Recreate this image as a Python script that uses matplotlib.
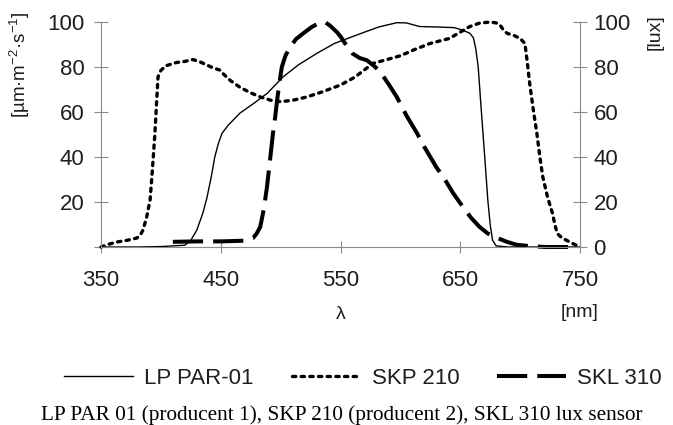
import numpy as np
import matplotlib
matplotlib.use('Agg')
import matplotlib.pyplot as plt

plt.rcParams['font.family'] = ['Liberation Sans', 'DejaVu Sans']
plt.rcParams['mathtext.fontset'] = 'custom'
plt.rcParams['mathtext.rm'] = 'Liberation Sans'

# spectral responses, wavelength [nm] -> relative value
lp_nm = [350, 380, 400, 420, 425, 430, 435, 438.5, 442, 445, 448, 451, 456, 466, 478, 489,
         502, 515, 530, 545, 560, 570, 582, 597, 605, 616, 630, 645, 652, 658, 661, 663,
         665, 667, 669, 671, 673, 675, 677, 680, 690, 750]
lp_val = [0, 0, 0.2, 0.8, 3, 7.5, 15, 22, 31, 40, 46, 50.5, 54, 59.5, 64, 68.4,
          75.6, 81, 86, 90.5, 93.5, 95.5, 97.8, 99.7, 99.6, 98, 97.8, 97.5, 96.4, 95, 93, 88,
          80, 65, 50.5, 36, 21, 10, 3, 0.5, 0, 0]

skp_nm = [350, 355, 363, 372, 380, 383, 385, 388, 391, 393, 395, 396.5, 397.6, 400, 404,
          413, 420, 427, 433, 438, 444, 449, 453, 458, 466, 475, 483, 492, 500, 510, 522,
          535, 550, 562, 577, 590, 600, 612, 625, 641, 650, 658, 666, 675, 680, 683, 686,
          689, 695, 700, 704, 706, 708, 711, 714, 716.5, 719, 723, 727, 729, 731, 735,
          741.6, 746, 750]
skp_val = [0, 1, 2.2, 3, 4, 5.5, 7.5, 13, 21, 35, 50.5, 65, 75.6, 78.5, 80.5,
           82, 82.5, 83.3, 82.2, 81, 79.5, 78.7, 76.5, 74, 71, 68.5, 66.7, 65.2, 64.6, 65.2, 66.7,
           69, 72, 75.5, 81.6, 83.5, 85, 87.8, 90.5, 92.7, 95.5, 98, 99.5, 100, 99.6, 98.8, 96.5,
           95, 94, 92.7, 90.5, 82, 72.6, 61, 50.5, 40, 31, 22, 15, 10, 6, 4,
           2.2, 1, 0]

skl_nm = [410, 430, 450, 470, 477, 480, 483, 486, 488.6, 491, 493.6, 495.5, 497, 499, 501,
          504, 508, 513, 519, 526, 532, 537, 541, 544, 547, 550, 555, 560, 566, 572, 578,
          583, 590, 597, 605, 614, 620, 625, 630, 636, 644, 652, 659, 666, 673, 681, 689,
          697, 710, 722, 745]
skl_val = [2.3, 2.5, 2.5, 2.8, 4, 6, 9, 17, 26.7, 38, 50.5, 58, 65, 73, 80,
           85, 89, 92.5, 95, 97.8, 99.5, 100, 98.5, 97, 95.5, 93.6, 89.5, 86, 84, 83, 80.5,
           78, 72.5, 66.7, 58.5, 50.5, 44.5, 40, 35.5, 31, 24, 18, 13, 9, 6, 4, 2.3,
           1, 0.3, 0, 0]

x_ticks = [350, 450, 550, 650, 750]
y_ticks = [0, 20, 40, 60, 80, 100]

grey = '#8a8a8a'
txt = '#1e1e1e'

fig = plt.figure(figsize=(6.73, 4.25), dpi=100)
ax = fig.add_axes([0.1501, 0.4188, 0.7117, 0.5294])

ax.plot(lp_nm, lp_val, color='black', lw=1.0, label='LP PAR-01', clip_on=False)
ax.plot(skp_nm, skp_val, color='black', lw=2.4, linestyle=(0, (1.0, 1.6)),
        dash_capstyle='round', label='SKP 210', clip_on=False)
ax.plot(skl_nm, skl_val, color='black', lw=2.9, linestyle=(0, (7.5, 2.5)),
        label='SKL 310', clip_on=False)

ax.set_xlim(350, 750)
ax.set_ylim(0, 100)
ax.set_xticks(x_ticks)
ax.set_yticks(y_ticks)
ax.set_yticklabels([''] + [str(v) for v in y_ticks[1:]])

ax2 = ax.twinx()
ax2.set_ylim(0, 100)
ax2.set_yticks(y_ticks)

for a in (ax, ax2):
    for s in a.spines.values():
        s.set_color(grey)
        s.set_linewidth(0.8)
    a.spines['top'].set_visible(False)
ax.spines['right'].set_visible(False)
ax2.spines['left'].set_visible(False)
ax2.spines['bottom'].set_visible(False)

ax.tick_params(axis='x', direction='inout', length=9, width=0.8, color=grey,
               labelsize=16, labelcolor=txt, pad=12)
ax.tick_params(axis='y', direction='inout', length=9.5, width=0.8, color=grey,
               labelsize=16, labelcolor=txt, pad=7)
ax2.tick_params(axis='y', direction='inout', length=9.5, width=0.8, color=grey,
                labelsize=16, labelcolor=txt, pad=5)

ax.set_xlabel('λ', fontsize=14, color=txt, labelpad=11)
ax.text(750, -0.29, '[nm]', transform=ax.get_xaxis_transform(), ha='center', va='center',
        fontsize=14, color=txt)
ax.text(-0.169, 0.81, r'[µm·m$^{\mathregular{-2}}$·s$^{\mathregular{-1}}$]',
        transform=ax.transAxes, rotation=90, ha='center', va='center', fontsize=13.5, color=txt)
ax.text(1.156, 0.956, '[lux]', transform=ax.transAxes, rotation=90, ha='center',
        va='center', fontsize=14, color=txt)

fig.legend(loc='center', bbox_to_anchor=(363 / 673, 1 - 378 / 425), ncol=3, frameon=False,
           fontsize=16, handlelength=3.1, handletextpad=0.5, columnspacing=1.7,
           borderpad=0, labelcolor=txt)

fig.text(0.508, 1 - 415 / 425, 'LP PAR 01 (producent 1), SKP 210 (producent 2), SKL 310 lux sensor',
         ha='center', va='center', fontsize=15.3, family=['Liberation Serif'], color='black')

fig.savefig('out.png', dpi=100)
